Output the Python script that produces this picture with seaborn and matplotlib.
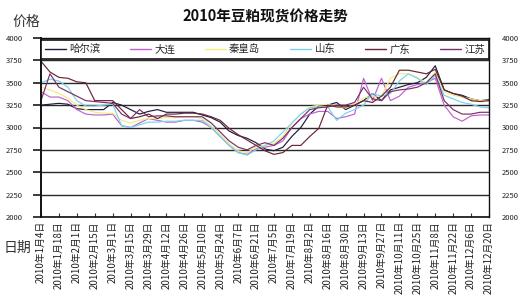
import matplotlib
matplotlib.use("Agg")
import matplotlib.pyplot as plt
from matplotlib.lines import Line2D
import seaborn as sns
import pandas as pd
import numpy as np

# ---- data (weekly readings, Mondays 2010-01-04 .. 2010-12-20) ----
dates = pd.date_range("2010-01-04", "2010-12-20", freq="7D")

harbin = [3250, 3260, 3270, 3260, 3210, 3200, 3200, 3200, 3280, 3250,
          3200, 3150, 3180, 3200, 3170, 3170, 3170, 3170, 3140, 3110,
          3060, 2960, 2910, 2880, 2830, 2760, 2740, 2780, 2900, 3000,
          3150, 3240, 3250, 3280, 3200, 3250, 3300, 3380, 3300, 3420,
          3450, 3480, 3500, 3560, 3690, 3420, 3380, 3360, 3320, 3300,
          3310]
dalian = [3400, 3340, 3340, 3300, 3200, 3150, 3140, 3140, 3150, 3020,
          3000, 3050, 3100, 3080, 3060, 3060, 3080, 3080, 3060, 3000,
          2900, 2800, 2720, 2700, 2760, 2780, 2800, 2850, 3000, 3100,
          3150, 3180, 3180, 3100, 3120, 3150, 3550, 3300, 3550, 3300,
          3350, 3450, 3480, 3500, 3550, 3250, 3120, 3070, 3130, 3140,
          3140]
qinhuangdao = [3450, 3420, 3380, 3330, 3250, 3200, 3170, 3160, 3160, 3080,
               3050, 3080, 3100, 3100, 3110, 3110, 3120, 3120, 3100, 3020,
               2920, 2820, 2740, 2720, 2780, 2800, 2820, 2900, 3050, 3150,
               3230, 3250, 3260, 3230, 3220, 3260, 3330, 3350, 3350, 3550,
               3600, 3600, 3560, 3500, 3620, 3400, 3360, 3340, 3320, 3300,
               3300]
shandong = [3500, 3540, 3520, 3450, 3300, 3240, 3240, 3250, 3260, 3020,
            3000, 3030, 3060, 3060, 3070, 3070, 3080, 3080, 3080, 3000,
            2900, 2800, 2720, 2690, 2750, 2800, 2850, 2950, 3050, 3150,
            3220, 3230, 3230, 3080, 3160, 3200, 3250, 3380, 3350, 3380,
            3520, 3600, 3550, 3480, 3580, 3360, 3320, 3280, 3260, 3230,
            3220]
guangdong = [3740, 3620, 3560, 3550, 3510, 3500, 3300, 3300, 3300, 3200,
             3100, 3120, 3150, 3100, 3150, 3150, 3160, 3160, 3150, 3120,
             3080, 2990, 2920, 2860, 2800, 2740, 2700, 2720, 2800, 2800,
             2900, 2990, 3250, 3230, 3230, 3250, 3300, 3280, 3350, 3450,
             3640, 3640, 3620, 3600, 3650, 3420, 3380, 3350, 3300, 3290,
             3300]
jiangsu = [3300, 3600, 3450, 3400, 3350, 3300, 3290, 3280, 3270, 3150,
           3100, 3200, 3120, 3130, 3130, 3120, 3120, 3120, 3120, 3050,
           2950, 2850, 2780, 2750, 2800, 2830, 2800, 2880, 3000, 3100,
           3200, 3220, 3230, 3250, 3250, 3280, 3450, 3320, 3300, 3400,
           3420, 3430, 3450, 3500, 3600, 3300, 3200, 3150, 3150, 3170,
           3170]

cities = ["哈尔滨", "大连", "秦皇岛", "山东", "广东", "江苏"]
series = [harbin, dalian, qinhuangdao, shandong, guangdong, jiangsu]
colors = ["#1c1c3c", "#c060d0", "#f0ec80", "#78d4ec", "#6a2434", "#7a3068"]

tick_dates = pd.date_range("2010-01-04", "2010-12-20", freq="14D")
tick_labels = [f"{d.year}年{d.month}月{d.day}日" for d in tick_dates]
yticks = [2000, 2250, 2500, 2750, 3000, 3250, 3500, 3750, 4000]

title = "2010年豆粕现货价格走势"

df = pd.concat([pd.DataFrame({"date": dates, "price": s, "city": c})
                for c, s in zip(cities, series)], ignore_index=True)

# ---- style ----
sns.set_theme(style="white")
plt.rcParams["font.family"] = ["Noto Sans CJK SC", "DejaVu Sans"]

fig = plt.figure(figsize=(5.2, 2.97), dpi=100)
ax = fig.add_axes([41 / 520, 1 - 217 / 297, 448 / 520, 179 / 297])

sns.lineplot(data=df, x="date", y="price", hue="city", hue_order=cities,
             palette=colors, legend=False, ax=ax, linewidth=0.85,
             estimator=None, sort=True)

ax.set_xlim(dates[0], dates[-1])
ax.set_ylim(2000, 4000)
ax.set_yticks(yticks)
ax.set_yticklabels([str(v) for v in yticks])
ax.set_xticks(tick_dates)
ax.set_xticklabels(tick_labels, rotation=90, fontsize=7, color="#222")
ax.set_xlabel("")
ax.set_ylabel("")

ax.grid(axis="y", color="#2a2a2a", linewidth=1.0)
ax.grid(axis="x", visible=False)
ax.tick_params(axis="y", labelleft=True, labelright=False, left=False,
               right=False, labelsize=5.5, pad=7, colors="#222")
ax.tick_params(axis="x", direction="in", length=3, width=0.8,
               bottom=True, color="#333", pad=3)
for side in ["left", "bottom", "right", "top"]:
    ax.spines[side].set_visible(True)
    ax.spines[side].set_color("#111")
ax.spines["left"].set_linewidth(1.4)
ax.spines["bottom"].set_linewidth(1.2)
ax.spines["right"].set_linewidth(1.0)
ax.spines["top"].set_linewidth(1.0)

# right-hand value axis
ax2 = ax.twinx()
ax2.set_ylim(2000, 4000)
ax2.set_yticks(yticks)
ax2.set_yticklabels([str(v) for v in yticks])
ax2.tick_params(axis="y", right=False, labelsize=5.5, pad=3, colors="#222")
ax2.grid(False)
for side in ["left", "bottom", "right", "top"]:
    ax2.spines[side].set_visible(False)

handles = [Line2D([0], [0], color=c, lw=1.0) for c in colors]
leg = ax2.legend(handles, cities, loc="lower left",
                 bbox_to_anchor=(0, 0.885, 1, 0.115), mode="expand", ncol=6,
                 frameon=True, fancybox=False, edgecolor="#111",
                 borderaxespad=0, fontsize=7.5, handlelength=2.0,
                 handletextpad=0.3, framealpha=1)
leg.get_frame().set_linewidth(1.2)

fig.text(0.51, 1 - 17 / 297, title, ha="center", va="center",
         fontsize=10.5, fontweight="bold", color="#111")
fig.text(12 / 520, 1 - 22 / 297, "价格", ha="left", va="center",
         fontsize=10, color="#333")
fig.text(4 / 520, 1 - 248 / 297, "日期", ha="left", va="center",
         fontsize=10, color="#333")

fig.savefig("out.png", dpi=100)
